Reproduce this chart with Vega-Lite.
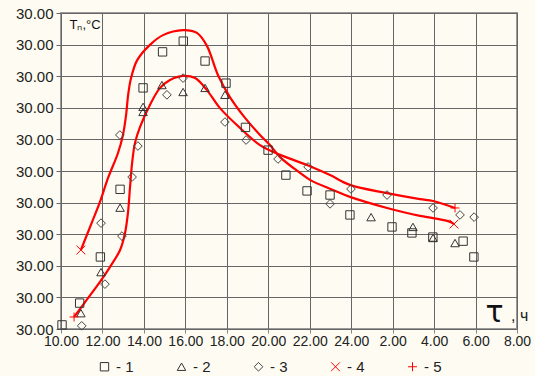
{
  "$schema": "https://vega.github.io/schema/vega-lite/v6.json",
  "width": 456,
  "height": 316,
  "autosize": {"type": "none"},
  "padding": {"left": 61, "top": 13, "right": 18, "bottom": 47},
  "background": "#fefcf2",
  "config": {
    "view": {"stroke": "#9a9a9a", "strokeWidth": 2, "fill": "#fefcf2"},
    "font": "Liberation Sans"
  },
  "datasets": {
    "pts": [
      {"h": 10.05, "v": 0.13, "s": "1"}, {"h": 10.9, "v": 0.82, "s": "1"}, {"h": 11.9, "v": 2.28, "s": "1"},
      {"h": 12.85, "v": 4.42, "s": "1"}, {"h": 13.96, "v": 7.63, "s": "1"}, {"h": 14.9, "v": 8.77, "s": "1"},
      {"h": 15.9, "v": 9.11, "s": "1"}, {"h": 16.95, "v": 8.48, "s": "1"}, {"h": 17.96, "v": 7.78, "s": "1"},
      {"h": 18.9, "v": 6.38, "s": "1"}, {"h": 19.99, "v": 5.66, "s": "1"}, {"h": 20.85, "v": 4.87, "s": "1"},
      {"h": 21.87, "v": 4.37, "s": "1"}, {"h": 22.98, "v": 4.24, "s": "1"}, {"h": 23.94, "v": 3.61, "s": "1"},
      {"h": 25.97, "v": 3.23, "s": "1"}, {"h": 26.93, "v": 3.04, "s": "1"}, {"h": 27.94, "v": 2.91, "s": "1"},
      {"h": 29.4, "v": 2.78, "s": "1"}, {"h": 29.92, "v": 2.28, "s": "1"},
      {"h": 10.96, "v": 0.5, "s": "2"}, {"h": 11.93, "v": 1.8, "s": "2"}, {"h": 12.85, "v": 3.84, "s": "2"},
      {"h": 13.96, "v": 7.03, "s": "2"}, {"h": 13.96, "v": 6.87, "s": "2"}, {"h": 14.87, "v": 7.72, "s": "2"},
      {"h": 15.89, "v": 7.5, "s": "2"}, {"h": 16.95, "v": 7.63, "s": "2"}, {"h": 17.91, "v": 7.41, "s": "2"},
      {"h": 24.96, "v": 3.54, "s": "2"}, {"h": 26.98, "v": 3.23, "s": "2"}, {"h": 27.95, "v": 2.88, "s": "2"},
      {"h": 29.01, "v": 2.72, "s": "2"},
      {"h": 11.0, "v": 0.1, "s": "3"}, {"h": 12.12, "v": 1.42, "s": "3"}, {"h": 12.94, "v": 2.94, "s": "3"},
      {"h": 11.93, "v": 3.35, "s": "3"}, {"h": 13.43, "v": 4.81, "s": "3"}, {"h": 13.71, "v": 5.79, "s": "3"},
      {"h": 12.84, "v": 6.14, "s": "3"}, {"h": 15.11, "v": 7.41, "s": "3"}, {"h": 15.89, "v": 7.94, "s": "3"},
      {"h": 17.91, "v": 6.55, "s": "3"}, {"h": 18.93, "v": 5.98, "s": "3"}, {"h": 20.47, "v": 5.38, "s": "3"},
      {"h": 21.92, "v": 5.13, "s": "3"}, {"h": 22.98, "v": 3.96, "s": "3"}, {"h": 23.99, "v": 4.43, "s": "3"},
      {"h": 25.73, "v": 4.24, "s": "3"}, {"h": 27.95, "v": 3.83, "s": "3"}, {"h": 29.25, "v": 3.61, "s": "3"},
      {"h": 29.93, "v": 3.54, "s": "3"},
      {"h": 10.96, "v": 2.5, "s": "4"}, {"h": 28.96, "v": 3.32, "s": "4"},
      {"h": 10.63, "v": 0.38, "s": "5"}, {"h": 29.01, "v": 3.83, "s": "5"}
    ],
    "curves": [
      {"h": 10.96, "v": 2.5, "c": "4"}, {"h": 11.5, "v": 3.39, "c": "4"}, {"h": 11.88, "v": 4.02, "c": "4"},
      {"h": 12.27, "v": 4.78, "c": "4"}, {"h": 12.75, "v": 5.57, "c": "4"}, {"h": 12.99, "v": 6.14, "c": "4"},
      {"h": 13.14, "v": 6.77, "c": "4"}, {"h": 13.24, "v": 7.41, "c": "4"}, {"h": 13.38, "v": 7.94, "c": "4"},
      {"h": 13.67, "v": 8.5, "c": "4"}, {"h": 14.29, "v": 8.99, "c": "4"}, {"h": 14.92, "v": 9.3, "c": "4"},
      {"h": 15.89, "v": 9.46, "c": "4"}, {"h": 16.56, "v": 9.37, "c": "4"}, {"h": 17.04, "v": 8.96, "c": "4"},
      {"h": 17.57, "v": 8.04, "c": "4"}, {"h": 18.15, "v": 7.34, "c": "4"}, {"h": 18.88, "v": 6.68, "c": "4"},
      {"h": 19.6, "v": 6.14, "c": "4"}, {"h": 20.08, "v": 5.82, "c": "4"}, {"h": 20.57, "v": 5.44, "c": "4"},
      {"h": 21.53, "v": 4.94, "c": "4"}, {"h": 22.01, "v": 4.72, "c": "4"}, {"h": 23.12, "v": 4.4, "c": "4"},
      {"h": 23.94, "v": 4.18, "c": "4"}, {"h": 25.73, "v": 3.83, "c": "4"}, {"h": 27.32, "v": 3.58, "c": "4"},
      {"h": 27.95, "v": 3.51, "c": "4"}, {"h": 28.77, "v": 3.39, "c": "4"}, {"h": 28.96, "v": 3.32, "c": "4"},
      {"h": 10.63, "v": 0.38, "c": "5"}, {"h": 11.16, "v": 0.85, "c": "5"}, {"h": 11.88, "v": 1.49, "c": "5"},
      {"h": 12.36, "v": 1.96, "c": "5"}, {"h": 12.85, "v": 2.5, "c": "5"}, {"h": 13.09, "v": 3.04, "c": "5"},
      {"h": 13.23, "v": 3.67, "c": "5"}, {"h": 13.33, "v": 4.49, "c": "5"}, {"h": 13.43, "v": 5.25, "c": "5"},
      {"h": 13.57, "v": 5.89, "c": "5"}, {"h": 13.81, "v": 6.39, "c": "5"}, {"h": 14.29, "v": 7.09, "c": "5"},
      {"h": 14.78, "v": 7.63, "c": "5"}, {"h": 15.26, "v": 7.88, "c": "5"}, {"h": 15.89, "v": 8.01, "c": "5"},
      {"h": 16.47, "v": 7.94, "c": "5"}, {"h": 17.04, "v": 7.56, "c": "5"}, {"h": 17.67, "v": 6.99, "c": "5"},
      {"h": 18.64, "v": 6.36, "c": "5"}, {"h": 19.6, "v": 5.82, "c": "5"}, {"h": 20.57, "v": 5.51, "c": "5"},
      {"h": 21.87, "v": 5.19, "c": "5"}, {"h": 22.98, "v": 4.87, "c": "5"}, {"h": 23.94, "v": 4.56, "c": "5"},
      {"h": 25.73, "v": 4.3, "c": "5"}, {"h": 27.32, "v": 4.11, "c": "5"}, {"h": 27.95, "v": 4.05, "c": "5"},
      {"h": 29.01, "v": 3.83, "c": "5"}
    ]
  },
  "encoding": {
    "x": {
      "field": "h", "type": "quantitative",
      "scale": {"domain": [10, 32], "nice": false, "zero": false},
      "axis": {
        "values": [10, 12, 14, 16, 18, 20, 22, 24, 26, 28, 30, 32],
        "tickCount": 30,
        "labelExpr": "format(datum.value > 24 ? datum.value - 24 : datum.value, '.2f')",
        "labelOverlap": false, "labelBound": false, "labelFlush": false,
        "labelFontSize": 14, "labelColor": "#222", "labelPadding": 1,
        "tickSize": 4, "tickColor": "#888", "domain": false,
        "gridColor": "#666", "gridOpacity": 1, "gridWidth": 1,
        "title": "τ", "titleFontSize": 30, "titleFontWeight": "normal", "titleColor": "#111",
        "titleX": 433, "titleY": -8, "titleBaseline": "alphabetic", "titleAlign": "center",
        "titleFont": "DejaVu Sans"
      }
    },
    "y": {
      "field": "v", "type": "quantitative",
      "scale": {"domain": [0, 10], "nice": false, "zero": false},
      "axis": {
        "values": [0, 1, 2, 3, 4, 5, 6, 7, 8, 9, 10],
        "tickCount": 30,
        "labelExpr": "'30.00'",
        "labelOverlap": false, "labelBound": false, "labelFlush": false,
        "labelFontSize": 15, "labelColor": "#222", "labelPadding": 3,
        "tickSize": 5, "tickColor": "#666", "domain": false,
        "gridColor": "#666", "gridOpacity": 1, "gridWidth": 1,
        "title": "Tₙ,°C", "titleAngle": 0, "titleFontSize": 13, "titleFontWeight": "normal",
        "titleColor": "#111", "titleX": 8, "titleY": 11, "titleAlign": "left", "titleBaseline": "middle"
      }
    }
  },
  "layer": [
    {
      "data": {"name": "curves"},
      "mark": {"type": "line", "interpolate": "catmull-rom", "color": "#ff0000", "strokeWidth": 2.2},
      "encoding": {"detail": {"field": "c"}}
    },
    {
      "data": {"name": "pts"},
      "mark": {"type": "point", "filled": false, "opacity": 1},
      "encoding": {
        "shape": {
          "field": "s", "type": "nominal",
          "scale": {
            "domain": ["1", "2", "3", "4", "5"],
            "range": ["square", "triangle-up", "diamond", "M-1,-1L1,1M-1,1L1,-1", "M-1,0L1,0M0,-1L0,1"]
          },
          "legend": {
            "orient": "none", "legendX": 36, "legendY": 346, "direction": "horizontal", "title": null,
            "labelExpr": "'- ' + datum.label", "labelFontSize": 15, "labelColor": "#222",
            "columnPadding": 40, "symbolSize": 100, "labelOffset": 4, "symbolStrokeWidth": 1.3
          }
        },
        "color": {
          "field": "s", "type": "nominal",
          "scale": {"domain": ["1", "2", "3", "4", "5"], "range": ["#333", "#333", "#444", "#ff0000", "#ff0000"]},
          "legend": {
            "orient": "none", "legendX": 36, "legendY": 346, "direction": "horizontal", "title": null,
            "labelExpr": "'- ' + datum.label", "labelFontSize": 15, "labelColor": "#222",
            "columnPadding": 40, "symbolSize": 100, "labelOffset": 4, "symbolStrokeWidth": 1.3
          }
        },
        "size": {
          "field": "s", "type": "nominal",
          "scale": {"domain": ["1", "2", "3", "4", "5"], "range": [70, 80, 90, 110, 130]},
          "legend": null
        },
        "strokeWidth": {
          "field": "s", "type": "nominal",
          "scale": {"domain": ["1", "2", "3", "4", "5"], "range": [1, 1, 1, 2.5, 2.5]},
          "legend": null
        }
      }
    },
    {
      "data": {"values": [{"h": 32, "v": 0.25}]},
      "mark": {"type": "text", "text": ", ч", "align": "left", "baseline": "alphabetic", "fontSize": 16, "dx": -6, "color": "#222"}
    }
  ]
}
